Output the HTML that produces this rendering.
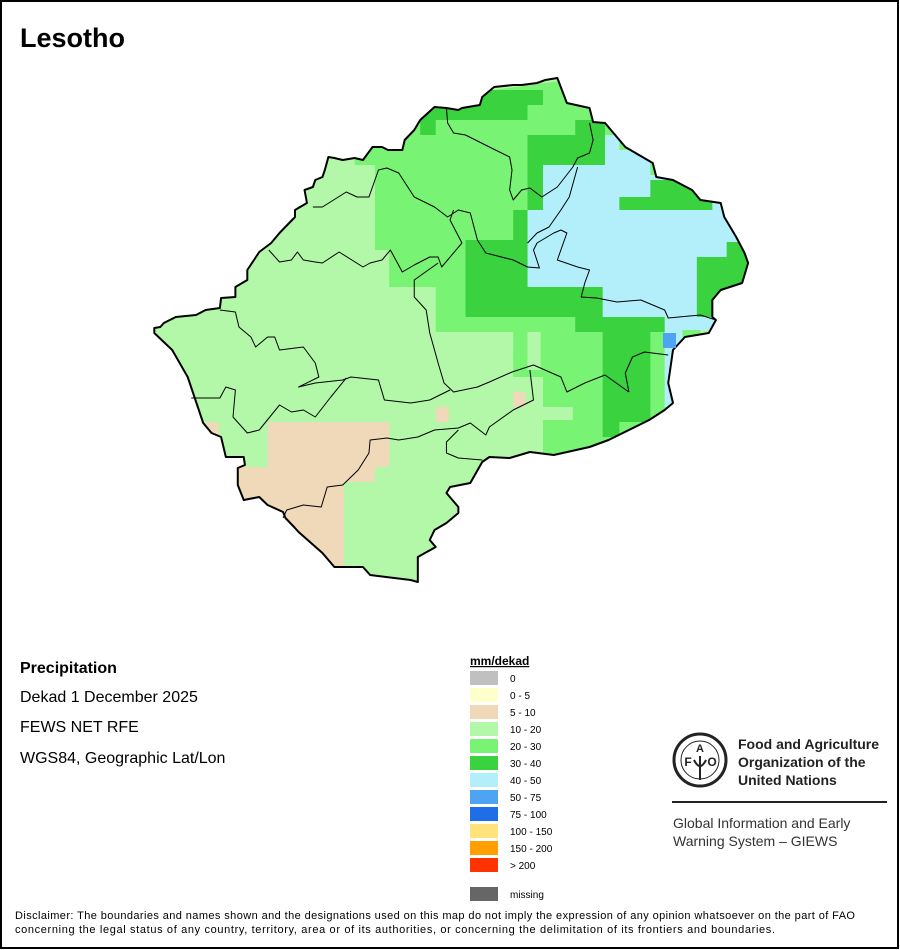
<!DOCTYPE html>
<html><head><meta charset="utf-8"><style>
html,body{margin:0;padding:0;background:#fff}
svg{display:block}
text{font-family:"Liberation Sans",sans-serif}
.ns{vector-effect:non-scaling-stroke}
</style></head><body>
<svg width="900" height="950" viewBox="0 0 900 950">
<rect x="1" y="1" width="897" height="947" fill="#fff" stroke="#000" stroke-width="2"/>
<text x="20" y="47" font-size="27" font-weight="bold">Lesotho</text>
<defs><clipPath id="cl"><polygon points="490,78 498,103 517,108 520,122 530,123 547,147 570,163 573,177 587,180 603,190 610,200 627,203 630,217 640,237 647,253 650,263 645,283 627,290 620,300 620,317 623,320 617,333 597,337 587,350 583,383 587,403 580,410 567,420 533,440 517,447 487,455 467,452 450,458 433,457 427,462 417,483 400,487 397,493 407,507 407,513 397,523 387,530 383,540 388,547 373,557 373,582 367,580 333,575 327,567 303,567 293,553 273,532 270,528 262,518 260,512 247,505 240,497 227,500 222,485 222,468 228,465 227,457 212,457 208,437 200,433 193,423 180,377 167,350 152,333 152,328 157,327 160,323 170,317 187,315 195,310 207,308 208,298 220,297 220,287 230,280 230,270 240,252 250,243 257,233 270,217 270,210 280,203 278,190 285,187 287,180 293,177 295,170 298,157 303,158 310,160 320,158 327,160 335,147 343,147 348,150 360,150 362,140 370,130 375,120 387,107 397,108 407,110 410,108 425,105 427,97 437,87 453,85 460,85 473,83 480,80"/></clipPath></defs>
<g transform="matrix(1.1924,0,0,1,-26.94,0)">
<g clip-path="url(#cl)">
<rect x="140" y="70" width="620" height="530" fill="#b3f8a9"/>
<polygon fill="#78f373" points="320,148 360,140 365,120 375,100 560,70 610,120 610,470 478,470 478,377 453,377 453,332 388,332 388,287 349,287 349,250 337,250 337,165 320,165"/>
<rect x="465" y="332" width="11" height="38" fill="#b3f8a9"/>
<rect x="478" y="407" width="25" height="13" fill="#b3f8a9"/>
<polygon fill="#b3effa" points="478,165 528,165 528,135 542,135 542,150 568,150 568,175 640,175 655,240 655,330 595,330 595,407 580,407 580,317 528,317 528,287 465,287 465,210 478,210"/>
<polygon fill="#3bd23f" points="375,100 427,90 478,90 478,105 465,105 465,120 388,120 388,135 375,135"/>
<polygon fill="#3bd23f" points="465,135 505,135 505,120 530,120 530,165 478,165 478,210 465,210 465,287 528,287 528,317 580,317 580,332 568,332 568,422 542,422 542,437 528,437 528,332 505,332 505,317 413,317 413,240 453,240 453,210 465,210"/>
<polygon fill="#3bd23f" points="568,180 607,180 607,197 620,197 620,210 542,210 542,197 568,197"/>
<polygon fill="#3bd23f" points="632,242 650,242 650,317 607,317 607,257 632,257"/>
<polygon fill="#efd9b8" points="247,422 349,422 349,467 337,467 337,482 311,482 311,572 298,572 222,500 222,467 247,467"/>
<rect x="195" y="422" width="11" height="15" fill="#efd9b8"/>
<rect x="388" y="407" width="11" height="15" fill="#efd9b8"/>
<rect x="453" y="392" width="10" height="15" fill="#efd9b8"/>
</g>
<g fill="none" stroke="#000" stroke-width="1" stroke-linejoin="round">
<polyline class="ns" points="397,108 398,123 403,133 413,135 433,147 450,157 452,170 450,190 453,200 460,190 467,188 477,197 490,187 503,167 507,158 517,153 520,140 517,123"/>
<polyline class="ns" points="285,207 293,207 313,192 322,197 332,197 340,170 347,168 357,173 370,197 387,207 398,217 407,210 417,213 423,240 430,253 453,260 465,267 475,268 470,250 473,243 487,233 493,230 498,233 490,260 507,267 517,270 513,283 510,297 523,298 540,302 560,300 580,310 583,318 610,315 623,320"/>
<polyline class="ns" points="248,250 257,262 267,260 272,252 277,260 287,262 293,263 307,252 327,267 333,263 343,260 350,250 360,272 370,265 383,257 390,257 393,267 410,243 400,220 403,210"/>
<polyline class="ns" points="390,263 370,280 370,297 380,310 383,333 387,350 390,363 395,383 403,392 423,387 433,382 452,372 470,365 493,377 498,392 513,383 530,375 550,392"/>
<polyline class="ns" points="207,310 220,312 223,327 233,337 237,347 247,337 253,337 257,350 277,347 287,363 290,377 273,387 287,383 310,380 317,377 340,380 345,400 367,403 383,400 400,390"/>
<polyline class="ns" points="183,398 207,398 212,387 220,390 218,417 230,433 240,430 257,405 267,412 277,410 287,417 300,397 313,378"/>
<polyline class="ns" points="260,518 263,510 277,505 292,507 297,487 310,485 323,470 332,453 333,440 347,438 357,440 373,437 387,430 407,428 417,423 430,435 433,427 453,410 470,400 467,370"/>
<polyline class="ns" points="407,430 397,442 397,453 407,458 427,460"/>
<polyline class="ns" points="550,392 547,373 553,357 563,352 583,355"/>
<polyline class="ns" points="465,243 473,233 483,227 493,210 500,197 507,167"/>
</g>
<polygon class="ns" fill="none" stroke="#000" stroke-width="2" stroke-linejoin="round" points="490,78 498,103 517,108 520,122 530,123 547,147 570,163 573,177 587,180 603,190 610,200 627,203 630,217 640,237 647,253 650,263 645,283 627,290 620,300 620,317 623,320 617,333 597,337 587,350 583,383 587,403 580,410 567,420 533,440 517,447 487,455 467,452 450,458 433,457 427,462 417,483 400,487 397,493 407,507 407,513 397,523 387,530 383,540 388,547 373,557 373,582 367,580 333,575 327,567 303,567 293,553 273,532 270,528 262,518 260,512 247,505 240,497 227,500 222,485 222,468 228,465 227,457 212,457 208,437 200,433 193,423 180,377 167,350 152,333 152,328 157,327 160,323 170,317 187,315 195,310 207,308 208,298 220,297 220,287 230,280 230,270 240,252 250,243 257,233 270,217 270,210 280,203 278,190 285,187 287,180 293,177 295,170 298,157 303,158 310,160 320,158 327,160 335,147 343,147 348,150 360,150 362,140 370,130 375,120 387,107 397,108 407,110 410,108 425,105 427,97 437,87 453,85 460,85 473,83 480,80"/>
</g>
<rect x="663" y="333" width="13" height="15" fill="#4fa3f3"/>

<text x="20" y="673" font-size="16" font-weight="bold">Precipitation</text>
<text x="20" y="702" font-size="16">Dekad 1 December 2025</text>
<text x="20" y="732" font-size="16">FEWS NET RFE</text>
<text x="20" y="763" font-size="16">WGS84, Geographic Lat/Lon</text>

<text x="470" y="665" font-size="12" font-weight="bold" text-decoration="underline">mm/dekad</text>
<g id="legend"></g>

<g>
<circle cx="700" cy="760" r="26" fill="none" stroke="#222" stroke-width="3"/>
<circle cx="700" cy="760" r="19" fill="none" stroke="#222" stroke-width="1"/>
<text x="688" y="766" font-size="12" font-weight="bold" text-anchor="middle" fill="#222">F</text>
<text x="700" y="752" font-size="11" font-weight="bold" text-anchor="middle" fill="#222">A</text>
<text x="712" y="766" font-size="12" font-weight="bold" text-anchor="middle" fill="#222">O</text>
<path d="M700 756 L700 780 M694 760 Q700 772 706 760" stroke="#222" stroke-width="2" fill="none"/>
</g>
<text x="738" y="749" font-size="14" font-weight="bold" fill="#222">Food and Agriculture</text>
<text x="738" y="767" font-size="14" font-weight="bold" fill="#222">Organization of the</text>
<text x="738" y="785" font-size="14" font-weight="bold" fill="#222">United Nations</text>
<rect x="672" y="801" width="215" height="2" fill="#222"/>
<text x="673" y="828" font-size="14" fill="#333">Global Information and Early</text>
<text x="673" y="846" font-size="14" fill="#333">Warning System – GIEWS</text>

<text x="15" y="919" font-size="11" textLength="840">Disclaimer: The boundaries and names shown and the designations used on this map do not imply the expression of any opinion whatsoever on the part of FAO</text>
<text x="15" y="933" font-size="11" textLength="760">concerning the legal status of any country, territory, area or of its authorities, or concerning the delimitation of its frontiers and boundaries.</text>
</svg>
<script>
const legendLabels = ["0","0 - 5","5 - 10","10 - 20","20 - 30","30 - 40","40 - 50","50 - 75","75 - 100","100 - 150","150 - 200","> 200","missing"];
const legendColors = ["#c0c0c0","#ffffcc","#efd9b8","#b3f8a9","#78f373","#3bd23f","#b3effa","#4fa3f3","#1f6ee8","#ffe37a","#ffa000","#ff3300","#666666"];
const NS="http://www.w3.org/2000/svg";
const lg=document.getElementById('legend');
legendLabels.forEach((lab,i)=>{
  const y = 671 + i*17 + (i===12?12:0);
  const r=document.createElementNS(NS,'rect');
  r.setAttribute('x',470);r.setAttribute('y',y);r.setAttribute('width',28);r.setAttribute('height',14);
  r.setAttribute('fill',legendColors[i]);
  
  
  lg.appendChild(r);
  const t=document.createElementNS(NS,'text');
  t.setAttribute('x',510);t.setAttribute('y',y+11);t.setAttribute('font-size',10);
  t.textContent=lab;
  
  
  lg.appendChild(t);
});
</script>
</body></html>
